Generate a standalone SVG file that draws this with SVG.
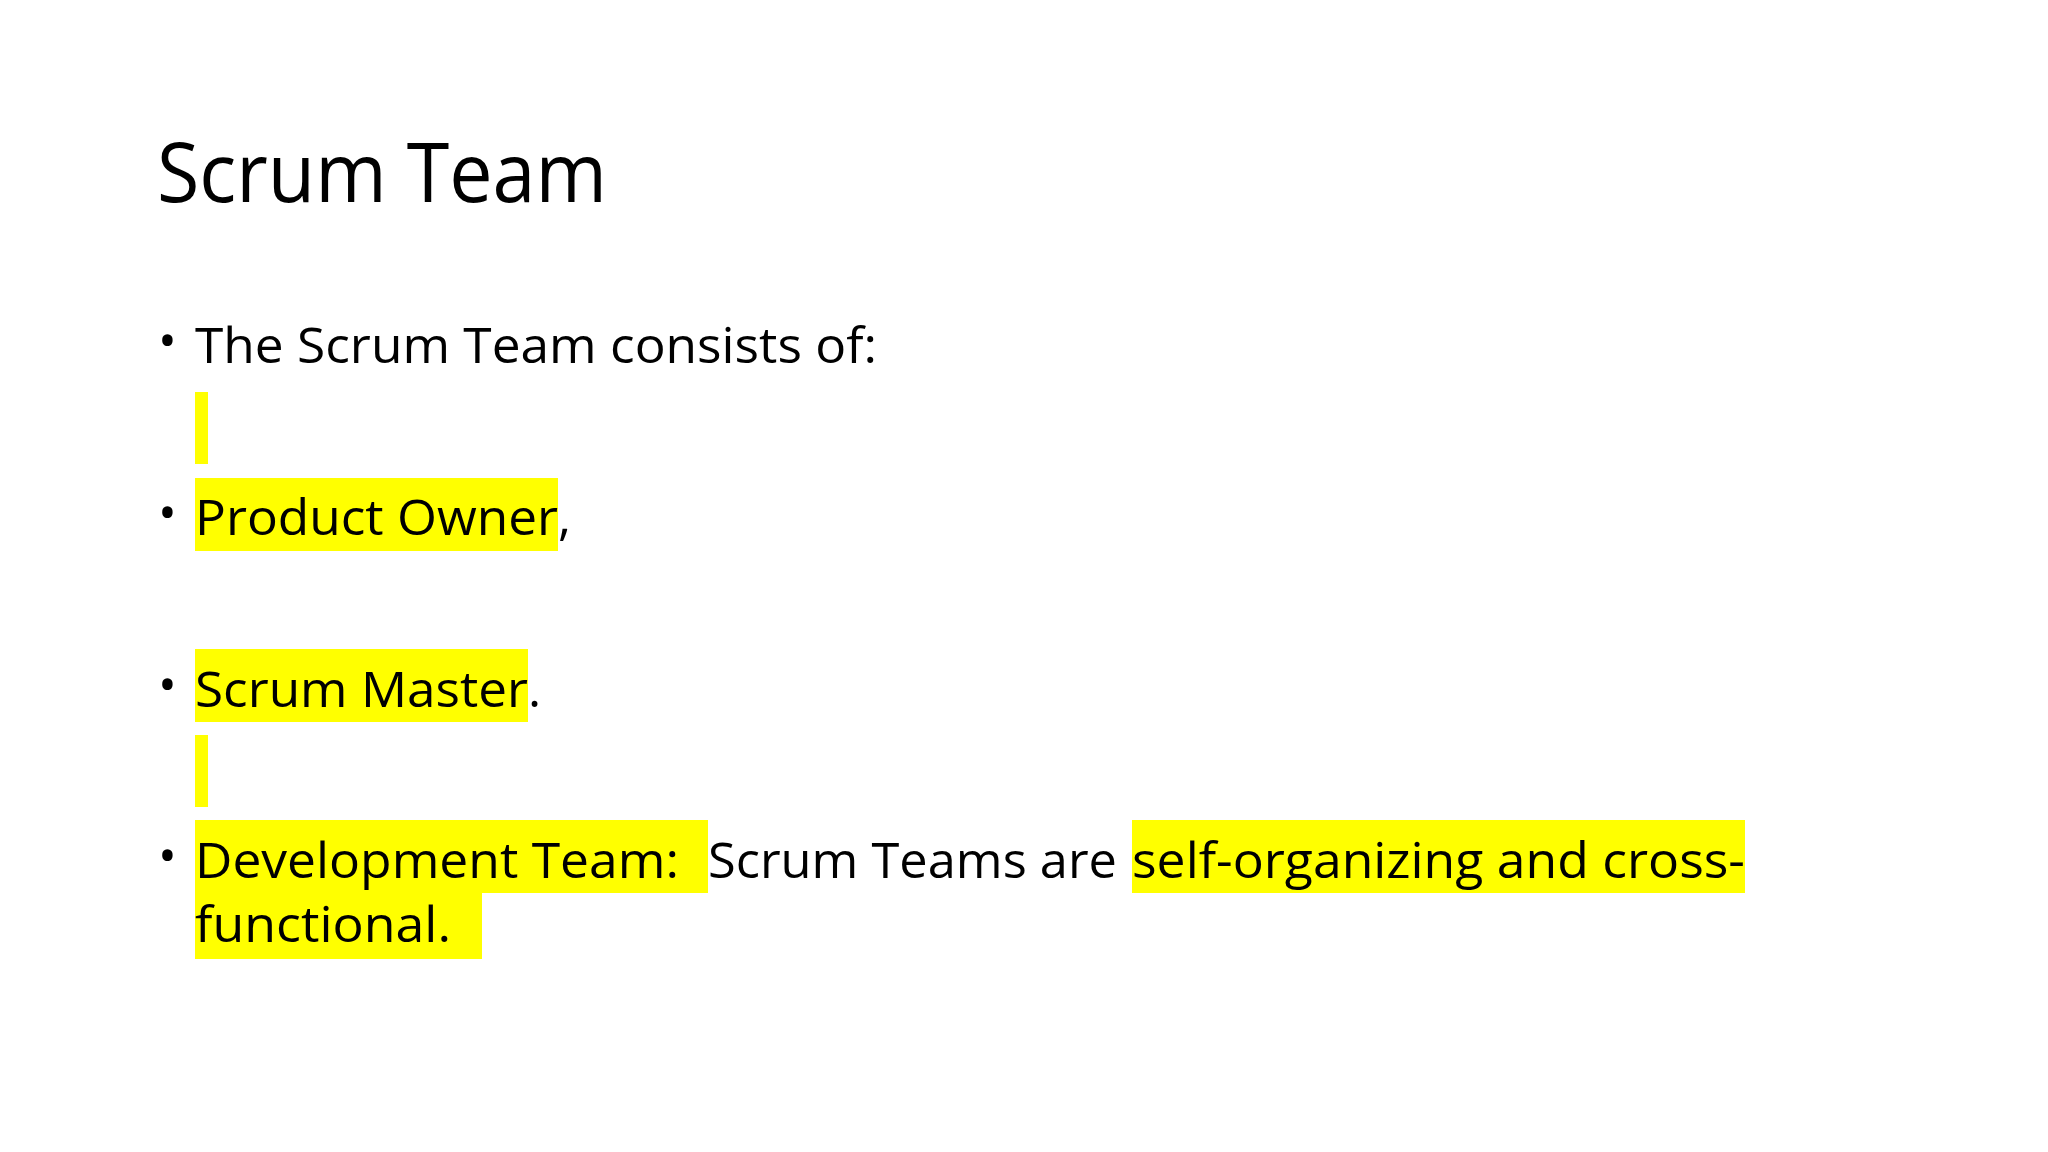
<svg xmlns="http://www.w3.org/2000/svg" width="2048" height="1152" viewBox="0 0 2048 1152">
<style>
.t{font-family:"Open Sans","Noto Sans",sans-serif;fill:#000}
.b{font-size:50px}
.hl{fill:#ffff00}
</style>
<rect width="2048" height="1152" fill="#ffffff"/>
<text class="t" x="157" y="202" font-size="82" textLength="450" lengthAdjust="spacingAndGlyphs">Scrum Team</text>
<g id="highlights">
<rect class="hl" x="195" y="392" width="13" height="72"/>
<rect class="hl" x="195" y="478" width="363" height="73"/>
<rect class="hl" x="195" y="649" width="333" height="73"/>
<rect class="hl" x="195" y="735" width="13" height="72"/>
<rect class="hl" x="195" y="820" width="513" height="73"/>
<rect class="hl" x="1132" y="820" width="613" height="73"/>
<rect class="hl" x="195" y="893" width="287" height="66"/>
</g>
<g id="bullets" class="t b">
<text x="158" y="358">•</text>
<text x="195" y="363" textLength="682" lengthAdjust="spacingAndGlyphs">The Scrum Team consists of:</text>
<text x="158" y="530">•</text>
<text x="195" y="535"><tspan textLength="363" lengthAdjust="spacingAndGlyphs">Product Owner</tspan>,</text>
<text x="158" y="702">•</text>
<text x="195" y="707"><tspan textLength="333" lengthAdjust="spacingAndGlyphs">Scrum Master</tspan>.</text>
<text x="158" y="873">•</text>
<text x="195" y="878" textLength="484" lengthAdjust="spacingAndGlyphs">Development Team:</text>
<text x="708" y="878" textLength="409" lengthAdjust="spacingAndGlyphs">Scrum Teams are</text>
<text x="1132" y="878" textLength="613" lengthAdjust="spacingAndGlyphs">self-organizing and cross-</text>
<text x="195" y="942" textLength="256" lengthAdjust="spacingAndGlyphs">functional.</text>
</g>
</svg>
